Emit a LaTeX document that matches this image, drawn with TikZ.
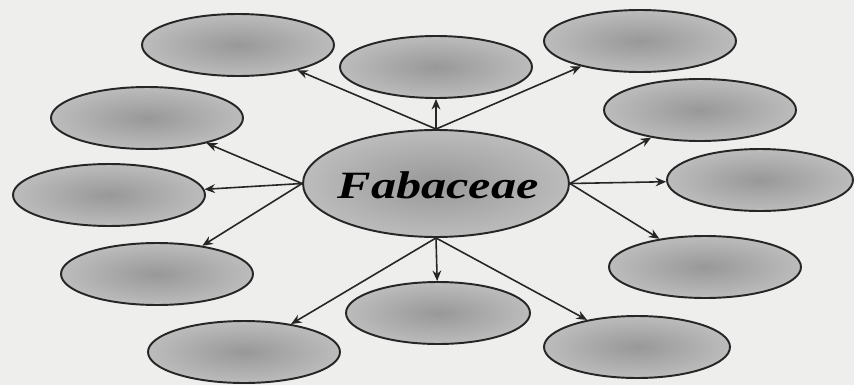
\documentclass[tikz,border=0pt]{standalone}
\usepackage{fontspec}
\setmainfont{Liberation Serif}
\usepackage{tikz}
\usetikzlibrary{shapes.geometric, arrows.meta}
\definecolor{paper}{RGB}{238, 238, 236}
\definecolor{leafdark}{RGB}{152, 152, 152}
\definecolor{leaflight}{RGB}{188, 188, 188}
\tikzset{
  leaf/.style={ellipse, draw=black!85, line width=1.1pt, inner sep=0pt,
    minimum width=3.84cm, minimum height=1.24cm,
    inner color=leafdark, outer color=leaflight},
  hub/.style={leaf, minimum width=5.32cm, minimum height=2.14cm},
  link/.style={-{Stealth[length=6pt, width=5pt]}, line width=0.9pt, black!85}
}

\begin{document}
\begin{tikzpicture}[x=0.02cm, y=-0.02cm]
    \fill[paper] (0,0) rectangle (854,385);
    \useasboundingbox (0,0) rectangle (854,385);

    % Center
    \node[hub] (fab) at (436,183.5) {};
    \node[font=\fontsize{22}{26}\selectfont\bfseries\itshape] (name) at (438,185) {\scalebox{1.3}[1]{Fabaceae}};

    % Satellites
    \node[leaf] (topl) at (238,45) {};
    \node[leaf] (topm) at (436,67) {};
    \node[leaf] (topr) at (640,41) {};
    \node[leaf] (lup)  at (147,118) {};
    \node[leaf] (rup)  at (700,110) {};
    \node[leaf] (lmid) at (109,195) {};
    \node[leaf, minimum width=3.72cm] (rmid) at (760,180) {};
    \node[leaf] (llow) at (157,274) {};
    \node[leaf] (rlow) at (705,267) {};
    \node[leaf] (botl) at (244,352) {};
    \node[leaf, minimum width=3.68cm] (botm) at (438,313) {};
    \node[leaf, minimum width=3.72cm] (botr) at (637,347) {};

    % Arrows
    \draw[link] (fab.north) -- (topl);
    \draw[link] (fab.north) -- (topm);
    \draw[link] (fab.north) -- (topr);
    \draw[link] (fab.west) -- (lup);
    \draw[link] (fab.west) -- (lmid);
    \draw[link] (fab.west) -- (llow);
    \draw[link] (fab.east) -- (rup);
    \draw[link] (fab.east) -- (rmid);
    \draw[link] (fab.east) -- (rlow);
    \draw[link] (fab.south) -- (botl);
    \draw[link] (fab.south) -- (botm);
    \draw[link] (fab.south) -- (botr);
\end{tikzpicture}
\end{document}
